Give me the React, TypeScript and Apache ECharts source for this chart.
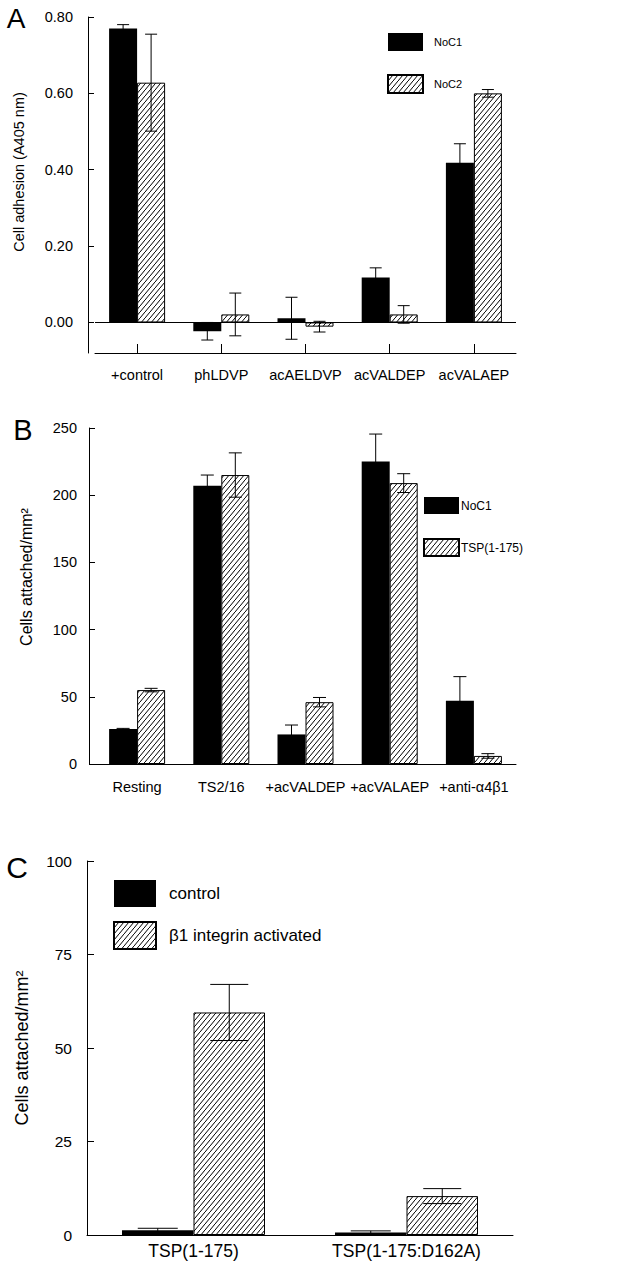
import React, { useEffect, useRef } from 'react';
import * as echarts from 'echarts';

// Panel A
const catsA = ['+control', 'phLDVP', 'acAELDVP', 'acVALDEP', 'acVALAEP'];
const noc1A = [0.77, -0.023, 0.011, 0.118, 0.418];
const noc1AErr = [0.01, 0.023, 0.055, 0.025, 0.05];
const noc2A = [0.628, 0.021, -0.011, 0.021, 0.6];
const noc2AErr = [0.127, 0.056, 0.014, 0.023, 0.01];
const ticksA = [0, 0.2, 0.4, 0.6, 0.8];

// Panel B
const catsB = ['Resting', 'TS2/16', '+acVALDEP', '+acVALAEP', '+anti-α4β1'];
const noc1B = [26, 207, 22, 225, 47];
const noc1BErr = [0.5, 8, 7, 20.5, 18];
const tspB = [55, 215, 46, 209, 6];
const tspBErr = [1.3, 16.5, 3.5, 7, 1.7];

// Panel C
const catsC = ['TSP(1-175)', 'TSP(1-175:D162A)'];
const controlC = [1.3, 0.7];
const controlCErr = [0.5, 0.4];
const activatedC = [59.5, 10.4];
const activatedCErr = [7.5, 2];

const FONT = '"Liberation Sans", Arial, Helvetica, sans-serif';

function makeHatch() {
  const c = document.createElement('canvas');
  c.width = 5;
  c.height = 6;
  const ctx = c.getContext('2d')!;
  ctx.fillStyle = '#fff';
  ctx.fillRect(0, 0, 5, 6);
  ctx.strokeStyle = '#000';
  ctx.lineWidth = 1;
  ctx.beginPath();
  ctx.moveTo(-1, 7.2);
  ctx.lineTo(6, -1.2);
  ctx.stroke();
  return { image: c, repeat: 'repeat', imageWidth: 5, imageHeight: 6 } as any;
}

function errSeries(name: string, vals: number[], errs: number[], idx: number, offset: number, cap: number) {
  return {
    name,
    type: 'custom',
    xAxisIndex: idx,
    yAxisIndex: idx,
    z: 5,
    silent: true,
    encode: { x: 0, y: 1 },
    data: vals.map((v, i) => [i, v, errs[i]]),
    renderItem: (params: any, api: any) => {
      const i = api.value(0);
      const v = api.value(1);
      const e = api.value(2);
      const p1 = api.coord([i, v + e]);
      const p2 = api.coord([i, v - e]);
      const x = p1[0] + offset;
      const st = { stroke: '#000', lineWidth: 1 };
      return {
        type: 'group',
        children: [
          { type: 'line', shape: { x1: x, y1: p1[1], x2: x, y2: p2[1] }, style: st },
          { type: 'line', shape: { x1: x - cap / 2, y1: p1[1], x2: x + cap / 2, y2: p1[1] }, style: st },
          { type: 'line', shape: { x1: x - cap / 2, y1: p2[1], x2: x + cap / 2, y2: p2[1] }, style: st },
        ],
      };
    },
  };
}

export default function App() {
  const ref = useRef<HTMLDivElement>(null);
  useEffect(() => {
    document.body.style.margin = '0';
    const chart = echarts.init(ref.current!, null, { renderer: 'svg' });
    const hatch = makeHatch();
    const black = { color: '#000' };
    const hatched = { color: hatch, borderColor: '#000', borderWidth: 1 };
    const axisLine = { show: true, lineStyle: { color: '#000', width: 1 } };

    const bwAB = 28;
    const bwC = 71.5;

    const option: any = {
      animation: false,
      backgroundColor: '#fff',
      textStyle: { fontFamily: FONT, color: '#000' },
      grid: [
        { left: 95, top: 17, width: 421, height: 336 },
        { left: 95, top: 428, width: 421, height: 336 },
        { left: 87, top: 861, width: 426, height: 374 },
      ],
      legend: [
        {
          data: ['NoC1', 'NoC2'], left: 387, top: 33, orient: 'vertical', icon: 'rect',
          itemWidth: 35, itemHeight: 18, itemGap: 23, padding: 0, selectedMode: false,
          textStyle: { fontSize: 11, fontFamily: FONT, color: '#000', padding: [4, 0, 0, 6] },
        },
        {
          data: ['NoC1', 'TSP(1-175)'], left: 423, top: 497, orient: 'vertical', icon: 'rect',
          itemWidth: 35, itemHeight: 17, itemGap: 24, padding: 0, selectedMode: false,
          textStyle: { fontSize: 12, fontFamily: FONT, color: '#000', padding: [0, 0, 0, -3] },
        },
        {
          data: ['control', 'β1 integrin activated'], left: 113, top: 880, orient: 'vertical', icon: 'rect',
          itemWidth: 42, itemHeight: 27, itemGap: 14, padding: 0, selectedMode: false,
          textStyle: { fontSize: 17, fontFamily: FONT, color: '#000', padding: [6, 0, 0, 8] },
        },
      ],
      xAxis: [
        {
          type: 'category', gridIndex: 0, data: catsA,
          axisLine: { ...axisLine, onZero: false },
          axisTick: { show: true, alignWithLabel: true, inside: true, length: 9, lineStyle: { color: '#000' } },
          axisLabel: { fontSize: 14.5, margin: 14, color: '#000', fontFamily: FONT, interval: 0 },
        },
        {
          type: 'category', gridIndex: 1, data: catsB,
          axisLine: { ...axisLine, onZero: false },
          axisTick: { show: false },
          axisLabel: { fontSize: 14.5, margin: 15, color: '#000', fontFamily: FONT, interval: 0 },
        },
        {
          type: 'category', gridIndex: 2, data: catsC,
          axisLine: { ...axisLine, onZero: false },
          axisTick: { show: false },
          axisLabel: { fontSize: 17.5, margin: 7, color: '#000', fontFamily: FONT, interval: 0 },
        },
      ],
      yAxis: [
        {
          type: 'value', gridIndex: 0, min: -0.08, max: 0.8, offset: 7,
          axisLine, splitLine: { show: false },
          axisTick: { show: true, inside: true, length: 6, customValues: ticksA, lineStyle: { color: '#000' } },
          axisLabel: {
            customValues: ticksA, fontSize: 14.5, margin: 15, color: '#000', fontFamily: FONT,
            formatter: (v: number) => v.toFixed(2),
          },
        },
        {
          type: 'value', gridIndex: 1, min: 0, max: 250, interval: 50, offset: 6,
          axisLine, splitLine: { show: false },
          axisTick: { show: true, inside: true, length: 6, lineStyle: { color: '#000' } },
          axisLabel: { fontSize: 14.5, margin: 12, color: '#000', fontFamily: FONT },
        },
        {
          type: 'value', gridIndex: 2, min: 0, max: 100, interval: 25,
          axisLine, splitLine: { show: false },
          axisTick: { show: true, inside: true, length: 7, lineStyle: { color: '#000' } },
          axisLabel: { fontSize: 15.5, margin: 15, color: '#000', fontFamily: FONT },
        },
      ],
      series: [
        {
          name: 'NoC1', type: 'bar', xAxisIndex: 0, yAxisIndex: 0, data: noc1A,
          barWidth: bwAB, barGap: '0%', itemStyle: black,
          markLine: {
            silent: true, symbol: 'none', label: { show: false },
            lineStyle: { color: '#000', width: 1, type: 'solid' },
            data: [{ yAxis: 0 }],
          },
        },
        {
          name: 'NoC2', type: 'bar', xAxisIndex: 0, yAxisIndex: 0, data: noc2A,
          barWidth: bwAB, barGap: '0%', itemStyle: hatched,
        },
        errSeries('errA1', noc1A, noc1AErr, 0, -bwAB / 2, 12),
        errSeries('errA2', noc2A, noc2AErr, 0, bwAB / 2, 12),
        {
          name: 'NoC1', type: 'bar', xAxisIndex: 1, yAxisIndex: 1, data: noc1B,
          barWidth: bwAB, barGap: '0%', itemStyle: black,
        },
        {
          name: 'TSP(1-175)', type: 'bar', xAxisIndex: 1, yAxisIndex: 1, data: tspB,
          barWidth: bwAB, barGap: '0%', itemStyle: hatched,
        },
        errSeries('errB1', noc1B, noc1BErr, 1, -bwAB / 2, 13),
        errSeries('errB2', tspB, tspBErr, 1, bwAB / 2, 13),
        {
          name: 'control', type: 'bar', xAxisIndex: 2, yAxisIndex: 2, data: controlC,
          barWidth: bwC, barGap: '0%', itemStyle: black,
        },
        {
          name: 'β1 integrin activated', type: 'bar', xAxisIndex: 2, yAxisIndex: 2, data: activatedC,
          barWidth: bwC, barGap: '0%', itemStyle: hatched,
        },
        errSeries('errC1', controlC, controlCErr, 2, -bwC / 2, 40),
        errSeries('errC2', activatedC, activatedCErr, 2, bwC / 2, 38),
      ],
      graphic: [
        { type: 'text', x: 16, y: 18, style: { text: 'A', font: `28px ${FONT}`, fill: '#000', align: 'center', verticalAlign: 'middle' } },
        { type: 'text', x: 23, y: 430, style: { text: 'B', font: `29px ${FONT}`, fill: '#000', align: 'center', verticalAlign: 'middle' } },
        { type: 'text', x: 17, y: 867, style: { text: 'C', font: `30px ${FONT}`, fill: '#000', align: 'center', verticalAlign: 'middle' } },
        { type: 'text', x: 19, y: 172, rotation: Math.PI / 2, style: { text: 'Cell adhesion (A405 nm)', font: `14.5px ${FONT}`, fill: '#000', align: 'center', verticalAlign: 'middle' } },
        { type: 'text', x: 26, y: 577, rotation: Math.PI / 2, style: { text: 'Cells attached/mm²', font: `16px ${FONT}`, fill: '#000', align: 'center', verticalAlign: 'middle' } },
        { type: 'text', x: 22, y: 1048, rotation: Math.PI / 2, style: { text: 'Cells attached/mm²', font: `18px ${FONT}`, fill: '#000', align: 'center', verticalAlign: 'middle' } },
      ],
    };
    chart.setOption(option);
    return () => chart.dispose();
  }, []);
  return (
    <div
      ref={ref}
      style={{ position: 'absolute', left: 0, top: 0, width: 639, height: 1280, background: '#fff' }}
    />
  );
}
